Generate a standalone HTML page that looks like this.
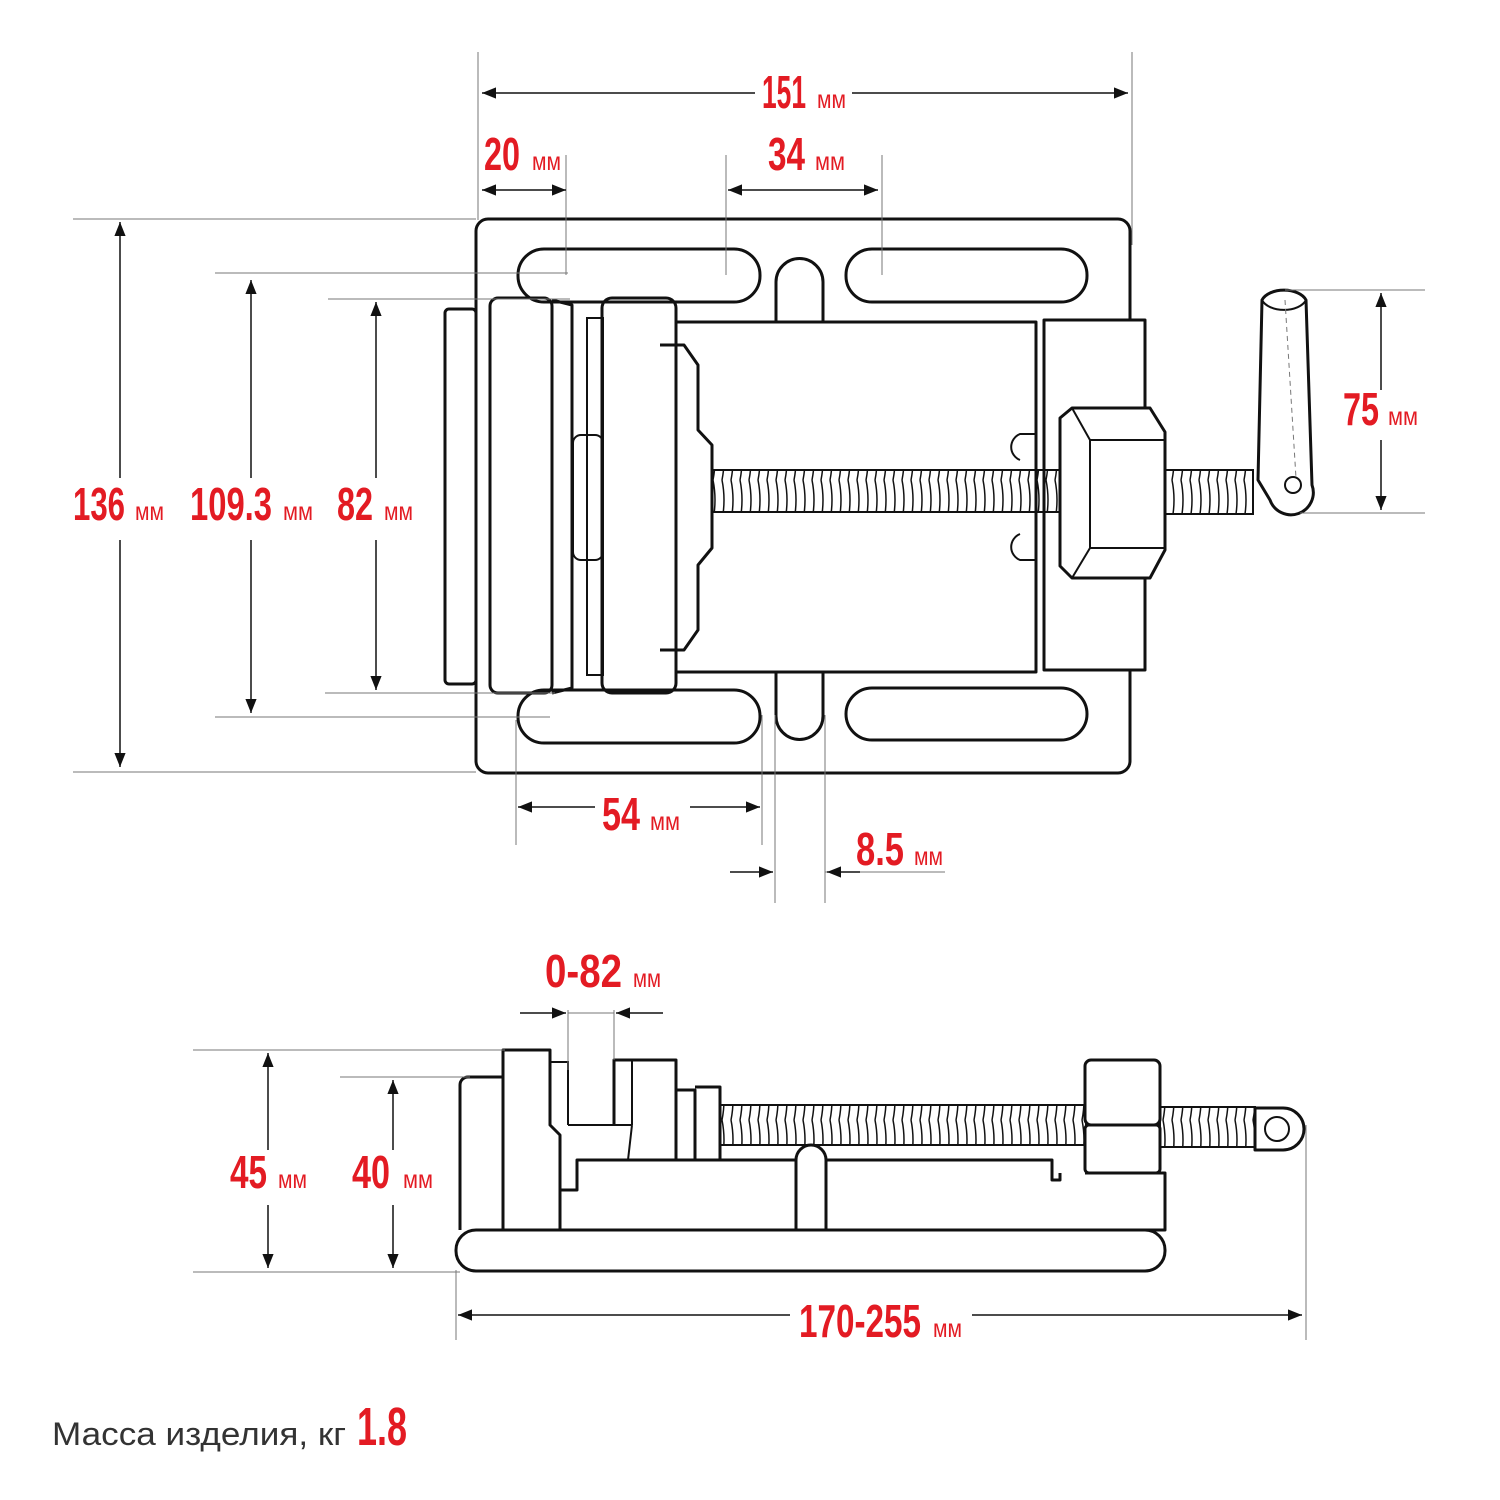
<!DOCTYPE html>
<html><head><meta charset="utf-8"><style>
html,body{margin:0;padding:0;background:#fff;width:1500px;height:1500px;overflow:hidden}
svg{display:block}
.d{fill:#e31b23;font-family:"Liberation Sans Narrow","Liberation Sans",sans-serif;font-weight:bold}
.b{font-size:46px}.s{font-size:26px;font-weight:normal}
.o{fill:none;stroke:#111;stroke-width:3;stroke-linejoin:round}
.w{fill:#fff;stroke:#111;stroke-width:3;stroke-linejoin:round}
.t{fill:none;stroke:#111;stroke-width:2}
.g{fill:none;stroke:#777;stroke-width:1}
.a{fill:none;stroke:#111;stroke-width:1.5}
</style></head><body>
<svg width="1500" height="1500" viewBox="0 0 1500 1500" xmlns="http://www.w3.org/2000/svg">
<defs>
<marker id="ar" viewBox="0 0 10 10" refX="10" refY="5" markerWidth="14" markerHeight="14" markerUnits="userSpaceOnUse" orient="auto-start-reverse"><path d="M0,1 L10,5 L0,9 z" fill="#111"/></marker>
<pattern id="thr" width="9" height="40" patternUnits="userSpaceOnUse"><path d="M2,0 Q6,20 2,40" stroke="#111" stroke-width="1.5" fill="none"/></pattern>
</defs>

<!-- ===== TOP VIEW ===== -->
<rect x="476" y="219" width="654" height="554" rx="12" class="o"/>
<rect x="518" y="249" width="242" height="53" rx="26" class="o"/>
<rect x="846" y="249" width="241" height="53" rx="26" class="o"/>
<rect x="518" y="690" width="242" height="53" rx="26" class="o"/>
<rect x="846" y="688" width="241" height="52" rx="26" class="o"/>
<path d="M776,322 V282 A23.5,23.5 0 0 1 823,282 V322" class="o"/>
<path d="M776,672 V716 A23.5,23.5 0 0 0 823,716 V672" class="o"/>
<rect x="445" y="309" width="31" height="375" rx="4" class="o"/>
<rect x="490" y="298" width="62" height="395" rx="8" class="o"/>
<path d="M552,300 L572,305 V688 L552,693" class="o"/>
<rect x="587" y="318" width="16" height="357" class="t"/>
<rect x="573" y="435" width="30" height="125" rx="8" class="t"/>
<rect x="602" y="298" width="74" height="395" rx="10" class="o"/>
<path d="M676,322 H1036 V672 H676" class="o"/>
<path d="M660,345 H684 L698,365 V430 L712,445 V548 L698,565 V630 L684,650 H660" class="o"/>
<rect x="1044" y="320" width="101" height="350" class="w"/>
<path d="M1036,434 H1020 A14,14 0 0 0 1020,460 M1036,560 H1020 A14,14 0 0 1 1020,534" class="t"/>
<rect x="712" y="470" width="378" height="42" fill="url(#thr)" stroke="#111" stroke-width="2"/>
<path d="M1060,418 L1072,408 H1150 L1165,432 V550 L1150,578 H1072 L1060,566 Z" class="w"/>
<path d="M1072,408 L1090,440 V548 L1072,578 M1090,440 H1165 M1090,548 H1165" class="t"/>
<rect x="1165" y="470" width="88" height="44" fill="url(#thr)" stroke="#111" stroke-width="2"/>
<path d="M1262,300 A23,14 0 0 1 1306,300 L1312,485 A22,22 0 0 1 1270,500 L1258,480 Z" class="w"/>
<path d="M1262,300 A23,14 0 0 0 1306,300" class="t"/>
<circle cx="1293" cy="485" r="8" class="t"/>
<path d="M1285,300 L1296,478" stroke="#777" stroke-dasharray="5,4" fill="none"/>

<!-- top dims -->
<path d="M478,52V220 M1132,52V245 M566,155V275 M726,155V275 M882,155V275
 M73,219H476 M215,273H568 M328,299H570 M325,693H555 M215,717H550 M73,772H476
 M1285,290H1425 M1300,513H1425 M516,720V845 M762,715V845 M775,715V903 M825,715V903 M825,872H945" class="g"/>
<path d="M755,93H482" class="a" marker-end="url(#ar)"/><path d="M852,93H1128" class="a" marker-end="url(#ar)"/>
<path d="M482,190H566" class="a" marker-start="url(#ar)" marker-end="url(#ar)"/>
<path d="M728,190H878" class="a" marker-start="url(#ar)" marker-end="url(#ar)"/>
<path d="M120,478V222" class="a" marker-end="url(#ar)"/><path d="M120,540V767" class="a" marker-end="url(#ar)"/>
<path d="M251,478V280" class="a" marker-end="url(#ar)"/><path d="M251,540V713" class="a" marker-end="url(#ar)"/>
<path d="M376,478V302" class="a" marker-end="url(#ar)"/><path d="M376,540V690" class="a" marker-end="url(#ar)"/>
<path d="M1381,390V293" class="a" marker-end="url(#ar)"/><path d="M1381,440V510" class="a" marker-end="url(#ar)"/>
<path d="M595,807H518" class="a" marker-end="url(#ar)"/><path d="M690,807H760" class="a" marker-end="url(#ar)"/>
<path d="M730,872H773" class="a" marker-end="url(#ar)"/><path d="M860,872H827" class="a" marker-end="url(#ar)"/>

<!-- ===== SIDE VIEW ===== -->
<rect x="456" y="1230" width="709" height="41" rx="20" class="o"/>
<path d="M460,1230 V1085 A8,8 0 0 1 468,1077 H503" class="o"/>
<path d="M503,1230 V1050 H550 V1125 L560,1135 V1230" class="o"/>
<path d="M550,1062 H568 V1125" class="t"/>
<path d="M614,1125 V1060 H676 V1160" class="o"/>
<path d="M632,1060 V1125 M568,1125 H632 M632,1125 L628,1160" class="t"/>
<path d="M560,1190 H577 V1160 H796 A15,15 0 0 1 826,1160 V1230 M796,1160 V1230 M560,1230 H796 M826,1230 H1165 V1173 H1085 M826,1160 H1052 V1180 H1060 V1173" class="o"/>
<path d="M676,1090 H695 V1160 M695,1087 H720 V1160" class="o"/>
<rect x="720" y="1105" width="366" height="40" fill="url(#thr)" stroke="#111" stroke-width="2"/>
<rect x="1085" y="1060" width="75" height="65" rx="6" class="w"/>
<rect x="1085" y="1125" width="75" height="48" rx="4" class="w"/>
<rect x="1160" y="1107" width="95" height="40" fill="url(#thr)" stroke="#111" stroke-width="2"/>
<path d="M1255,1108 H1283 A21,21 0 0 1 1283,1150 H1255 Z" class="w"/>
<circle cx="1277" cy="1129" r="12" class="t"/>

<!-- side dims -->
<path d="M568,1010V1070 M614,1010V1060 M568,1013H614 M193,1050H505 M193,1272H460 M340,1077H470 M456,1270V1340 M1306,1125V1340" class="g"/>
<path d="M520,1013H566" class="a" marker-end="url(#ar)"/><path d="M663,1013H616" class="a" marker-end="url(#ar)"/>
<path d="M268,1150V1053" class="a" marker-end="url(#ar)"/><path d="M268,1205V1268" class="a" marker-end="url(#ar)"/>
<path d="M393,1150V1080" class="a" marker-end="url(#ar)"/><path d="M393,1205V1268" class="a" marker-end="url(#ar)"/>
<path d="M790,1315H458" class="a" marker-end="url(#ar)"/><path d="M972,1315H1302" class="a" marker-end="url(#ar)"/>

<!-- labels -->
<g class="d">
<text class="b" x="762" y="108" textLength="44" lengthAdjust="spacingAndGlyphs">151</text><text class="s" x="817" y="108" textLength="29" lengthAdjust="spacingAndGlyphs">мм</text>
<text class="b" x="484" y="170" textLength="36" lengthAdjust="spacingAndGlyphs">20</text><text class="s" x="532" y="170" textLength="29" lengthAdjust="spacingAndGlyphs">мм</text>
<text class="b" x="768" y="170" textLength="37" lengthAdjust="spacingAndGlyphs">34</text><text class="s" x="815" y="170" textLength="30" lengthAdjust="spacingAndGlyphs">мм</text>
<text class="b" x="73" y="520" textLength="52" lengthAdjust="spacingAndGlyphs">136</text><text class="s" x="135" y="520" textLength="29" lengthAdjust="spacingAndGlyphs">мм</text>
<text class="b" x="190" y="520" textLength="82" lengthAdjust="spacingAndGlyphs">109.3</text><text class="s" x="283" y="520" textLength="30" lengthAdjust="spacingAndGlyphs">мм</text>
<text class="b" x="337" y="520" textLength="36" lengthAdjust="spacingAndGlyphs">82</text><text class="s" x="384" y="520" textLength="29" lengthAdjust="spacingAndGlyphs">мм</text>
<text class="b" x="1343" y="425" textLength="36" lengthAdjust="spacingAndGlyphs">75</text><text class="s" x="1388" y="425" textLength="30" lengthAdjust="spacingAndGlyphs">мм</text>
<text class="b" x="602" y="830" textLength="38" lengthAdjust="spacingAndGlyphs">54</text><text class="s" x="650" y="830" textLength="30" lengthAdjust="spacingAndGlyphs">мм</text>
<text class="b" x="856" y="865" textLength="48" lengthAdjust="spacingAndGlyphs">8.5</text><text class="s" x="914" y="865" textLength="29" lengthAdjust="spacingAndGlyphs">мм</text>
<text class="b" x="545" y="987" textLength="77" lengthAdjust="spacingAndGlyphs">0-82</text><text class="s" x="633" y="987" textLength="28" lengthAdjust="spacingAndGlyphs">мм</text>
<text class="b" x="230" y="1188" textLength="37" lengthAdjust="spacingAndGlyphs">45</text><text class="s" x="278" y="1188" textLength="29" lengthAdjust="spacingAndGlyphs">мм</text>
<text class="b" x="352" y="1188" textLength="38" lengthAdjust="spacingAndGlyphs">40</text><text class="s" x="403" y="1188" textLength="30" lengthAdjust="spacingAndGlyphs">мм</text>
<text class="b" x="799" y="1337" textLength="122" lengthAdjust="spacingAndGlyphs">170-255</text><text class="s" x="933" y="1337" textLength="29" lengthAdjust="spacingAndGlyphs">мм</text>
<text x="357" y="1445" font-size="54" textLength="50" lengthAdjust="spacingAndGlyphs">1.8</text>
</g>
<text x="52" y="1445" font-size="32" fill="#333" font-family="Liberation Sans, sans-serif" textLength="294" lengthAdjust="spacingAndGlyphs">Масса изделия, кг</text>
</svg>
</body></html>
